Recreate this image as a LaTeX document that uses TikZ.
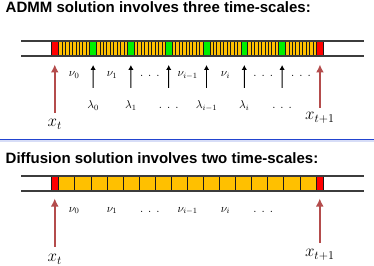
\RequirePackage{fix-cm}
\documentclass[tikz,border=0pt]{standalone}
\usepackage{fontspec}
\setsansfont{Liberation Sans}
\usetikzlibrary{arrows.meta,positioning,calc}
\definecolor{ink}{HTML}{1A1A1A}
\definecolor{rail}{HTML}{3C3C3C}
\definecolor{gold}{HTML}{FFC000}
\definecolor{lime}{HTML}{00F000}
\definecolor{hot}{HTML}{FF0000}
\definecolor{rust}{HTML}{B44C4C}
\definecolor{rule}{HTML}{2244D0}
\newcommand{\spdots}{{.}\hspace{5pt}{.}\hspace{5pt}{.}}
\tikzset{
  every node/.style={inner sep=0pt},
  title/.style={font=\sffamily\bfseries\fontsize{15}{18}\selectfont, anchor=base west, text=black},
  railline/.style={draw=rail, line width=1.4pt},
  cell/.style={draw=ink, line width=0.7pt, anchor=south west, minimum height=15pt,
               inner sep=0pt, outer sep=0pt},
  stripe/.style={cell, fill=gold, minimum width=3.444pt},
  gcell/.style={cell, fill=lime, minimum width=6.8pt},
  rcell/.style={cell, fill=hot, minimum width=7.5pt},
  ycell/.style={cell, fill=gold, minimum width=16.08pt},
  lbl/.style={font=\fontsize{11.5}{13}\selectfont, anchor=base},
  xlbl/.style={font=\fontsize{17}{20}\selectfont, anchor=base},
  redarr/.style={-{Latex[length=8pt, width=8pt]}, draw=rust, line width=2.2pt},
  blkarr/.style={-{Latex[length=5pt, width=5.5pt]}, draw=black, line width=1pt},
  sepline/.style={draw=rule, line width=1.5pt},
  sepshade/.style={draw=rule!18, line width=1.5pt},
}
\begin{document}
\begin{tikzpicture}[x=1pt,y=1pt]
\useasboundingbox[fill=white] (0,0) rectangle (374,265);

% --- Panel A: ADMM, three time-scales ---
\node[title] (ttlA) at (5.5,252.3) {ADMM solution involves three time-scales:};
\node[rcell] (rA0) at (51,209) {};
\foreach \k in {0,...,6}
  \foreach \s in {0,...,8}
    \node[stripe] (sA\k\s) at ({58.7+37.8*\k+3.444*\s},209) {};
\foreach \k in {0,...,5}
  \node[gcell] (gA\k) at ({89.7+37.8*\k},209) {};
\node[rcell] (rA1) at (316.2,209) {};
\coordinate (railAsw) at (21,209);
\coordinate (railAse) at (364,209);
\coordinate (railAnw) at (21,224);
\coordinate (railAne) at (364,224);
\draw[railline] (railAsw) -- (railAse);
\draw[railline] (railAnw) -- (railAne);

\foreach \k/\t in {0/\nu_0,1/\nu_1,2/\spdots,3/\nu_{i-1},4/\nu_i,5/\spdots,6/\spdots}
  \node[lbl] (nuA\k) at ({74.2+37.8*\k},188) {$\t$};
\foreach \k/\t in {0/\lambda_0,1/\lambda_1,2/\spdots,3/\lambda_{i-1},4/\lambda_i,5/\spdots}{
  \node[lbl] (lamA\k) at ({93.1+37.8*\k},156.5) {$\t$};
  \draw[blkarr] ([yshift=20.5pt]lamA\k.base) -- ([yshift=-9pt]gA\k.south);
}

\node[xlbl] (xA0) at (54.75,138.5) {$x_t$};
\node[xlbl] (xA1) at (319.95,145) {$x_{t+1}$};
\draw[redarr] ([yshift=13.5pt]xA0.base) -- ([yshift=-8.5pt]rA0.south);
\draw[redarr] ([yshift=12pt]xA1.base) -- ([yshift=-8.5pt]rA1.south);

% --- separator ---
\coordinate (sepW) at (0,125.3);
\coordinate (sepE) at (374,125.3);
\draw[sepshade] ([yshift=-1.5pt]sepW) -- ([yshift=-1.5pt]sepE);
\draw[sepline] (sepW) -- (sepE);

% --- Panel B: diffusion, two time-scales ---
\node[title] (ttlB) at (5.5,101.7) {Diffusion solution involves two time-scales:};
\node[rcell] (rB0) at (51,74) {};
\foreach \s in {0,...,15}
  \node[ycell] (yB\s) at ({58.7+16.08*\s},74) {};
\node[rcell] (rB1) at (316,74) {};
\coordinate (railBsw) at (21,74);
\coordinate (railBse) at (364,74);
\coordinate (railBnw) at (21,89);
\coordinate (railBne) at (364,89);
\draw[railline] (railBsw) -- (railBse);
\draw[railline] (railBnw) -- (railBne);

\foreach \k/\t in {0/\nu_0,1/\nu_1,2/\spdots,3/\nu_{i-1},4/\nu_i,5/\spdots}
  \node[lbl] (nuB\k) at ({74.2+37.8*\k},53) {$\t$};

\node[xlbl] (xB0) at (54.75,3.5) {$x_t$};
\node[xlbl] (xB1) at (319.75,8.5) {$x_{t+1}$};
\draw[redarr] ([yshift=15pt]xB0.base) -- ([yshift=-7.5pt]rB0.south);
\draw[redarr] ([yshift=13.5pt]xB1.base) -- ([yshift=-7.5pt]rB1.south);

\end{tikzpicture}
\end{document}
